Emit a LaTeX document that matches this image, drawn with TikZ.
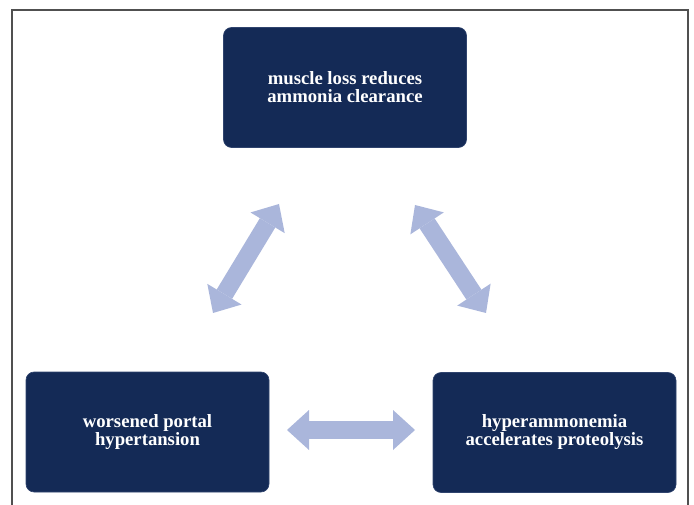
\documentclass[tikz,border=0pt]{standalone}
\usepackage{fontspec}
\setmainfont{Liberation Serif}
\usetikzlibrary{arrows.meta}
\definecolor{navy}{RGB}{20,42,86}
\definecolor{navyedge}{RGB}{48,68,110}
\definecolor{linkblue}{RGB}{170,182,219}
\definecolor{framegray}{RGB}{80,80,80}
\begin{document}
\begin{tikzpicture}[x=1pt,y=-1pt,
  stage/.style={draw=navyedge, line width=0.6pt, fill=navy, rounded corners=8pt,
    minimum width=243pt, minimum height=120pt, inner sep=0pt,
    text=white, align=center,
    font=\fontsize{18.7pt}{18pt}\selectfont\bfseries},
  link/.style={draw=linkblue, line width=18pt,
    {Triangle[length=22pt,width=40pt,line width=0pt]}-{Triangle[length=22pt,width=40pt,line width=0pt]}},
  frame/.style={draw=framegray, line width=1.2pt}]
  \useasboundingbox (0,0) rectangle (694,505);
  % open frame around the cycle
  \draw[frame] (12,505) -- (12,10) -- (688,10) -- (688,505);
  % the three stages
  \node[stage] (muscle) at (345,87.5) {muscle loss reduces\\ammonia clearance};
  \node[stage] (portal) at (147.5,432) {worsened portal\\hypertansion};
  \node[stage] (ammonia) at (554.5,432.5) {hyperammonemia\\accelerates proteolysis};
  % ends of the two-way links
  \coordinate (mp) at (279,204);
  \coordinate (pm) at (213,313);
  \coordinate (ma) at (415,205);
  \coordinate (am) at (486,313);
  \coordinate (pa) at (287,430);
  \coordinate (ap) at (415,430);
  \draw[link] (pm) -- (mp);
  \draw[link] (ma) -- (am);
  \draw[link] (pa) -- (ap);
\end{tikzpicture}
\end{document}
